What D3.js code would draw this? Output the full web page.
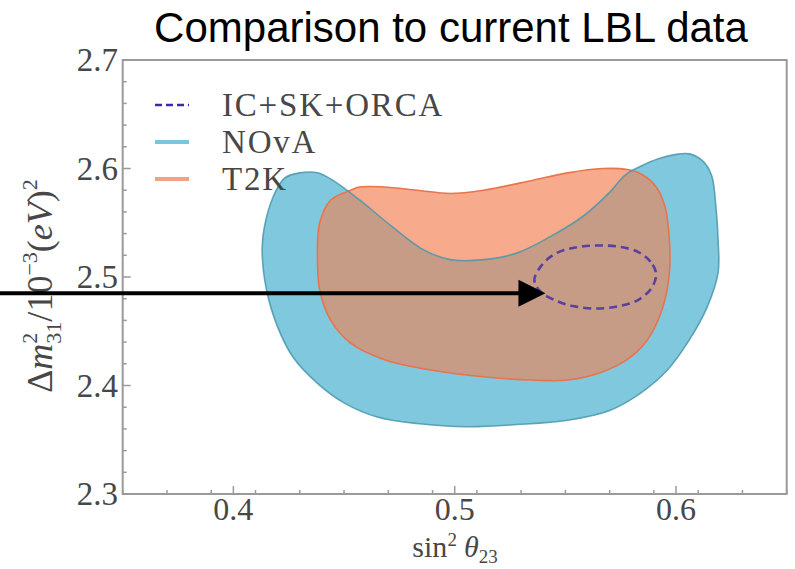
<!DOCTYPE html>
<html>
<head>
<meta charset="utf-8">
<script src="https://cdn.jsdelivr.net/npm/d3@7"></script>
<style>
  html, body { margin: 0; padding: 0; background: #fff; }
  svg { display: block; }
</style>
</head>
<body>
<svg id="chart" width="795" height="569"></svg>
<script>
// ---------------- data ----------------
const title = "Comparison to current LBL data";
const xDomain = [0.35, 0.65];
const yDomain = [2.3, 2.7];
const xTicks = [0.4, 0.5, 0.6];
const yTicks = [2.3, 2.4, 2.5, 2.6, 2.7];
const xMinorStep = 0.02;
const yMinorStep = 0.02;

const legendLabels = ["IC+SK+ORCA", "NOvA", "T2K"];

// NOvA contour (sin^2 theta23, dm^2_31 [1e-3 eV^2])
const novaX = [0.430, 0.423, 0.418, 0.414, 0.413, 0.415, 0.420, 0.427, 0.438, 0.450, 0.465, 0.483, 0.506, 0.528, 0.551,
  0.570, 0.584, 0.596, 0.606, 0.614, 0.619, 0.619, 0.618, 0.616, 0.612, 0.606, 0.600, 0.592, 0.584, 0.577, 0.570,
  0.558, 0.543, 0.528, 0.513, 0.498, 0.486, 0.472, 0.457, 0.445, 0.438];
const novaY = [2.596, 2.591, 2.574, 2.546, 2.525, 2.488, 2.454, 2.426, 2.402, 2.384, 2.371, 2.365, 2.362, 2.364, 2.368,
  2.377, 2.393, 2.414, 2.442, 2.472, 2.504, 2.534, 2.565, 2.594, 2.607, 2.6135, 2.613, 2.609, 2.602, 2.594, 2.578,
  2.556, 2.537, 2.522, 2.516, 2.516, 2.525, 2.546, 2.571, 2.589, 2.596];

// T2K contour
const t2kX = [0.453, 0.444, 0.439, 0.438, 0.439, 0.444, 0.453, 0.468, 0.490, 0.513, 0.535, 0.551, 0.566, 0.578,
  0.587, 0.594, 0.597, 0.597, 0.595, 0.591, 0.585, 0.578, 0.567, 0.551, 0.535, 0.513, 0.498, 0.483, 0.468, 0.457];
const t2kY = [2.580, 2.571, 2.550, 2.518, 2.488, 2.460, 2.439, 2.424, 2.414, 2.408, 2.405, 2.405, 2.412, 2.424,
  2.442, 2.472, 2.504, 2.534, 2.565, 2.583, 2.594, 2.599, 2.600, 2.596, 2.589, 2.580, 2.577, 2.580, 2.583, 2.583];

// IC+SK+ORCA projected contour
const icX = [0.591, 0.5885, 0.583, 0.574, 0.564, 0.554, 0.545, 0.539, 0.536, 0.539, 0.546, 0.554, 0.564, 0.574, 0.583, 0.589];
const icY = [2.503, 2.514, 2.523, 2.528, 2.529, 2.527, 2.521, 2.510, 2.497, 2.486, 2.478, 2.473, 2.471, 2.473, 2.479, 2.490];

// annotation arrow (data coordinates)
const arrowX = [0.29, 0.541];
const arrowY = [2.485, 2.485];

// ---------------- layout / style ----------------
const plot = { left: 122.7, right: 786.7, top: 60, bottom: 494 };
const colors = {
  nova: "#80c8de", novaStroke: "#4a97ad",
  t2k: "#f8ab8c", t2kStroke: "#e8744c",
  overlap: "#c79c87",
  ic: "#3d2ba6",
  frame: "#9a9a9a", text: "#474747"
};
const serif = "'Liberation Serif', 'DejaVu Serif', serif";

const svg = d3.select("#chart");
const x = d3.scaleLinear().domain(xDomain).range([plot.left, plot.right]);
const y = d3.scaleLinear().domain(yDomain).range([plot.bottom, plot.top]);

const toPts = (xs, ys) => xs.map((v, i) => [v, ys[i]]);
const line = d3.line().x(d => x(d[0])).y(d => y(d[1])).curve(d3.curveCatmullRomClosed.alpha(0.5));

const novaPts = toPts(novaX, novaY);
const t2kPts = toPts(t2kX, t2kY);
const icPts = toPts(icX, icY);

const defs = svg.append("defs");
defs.append("clipPath").attr("id", "novaClip")
  .append("path").attr("d", line(novaPts));

svg.append("path").attr("d", line(novaPts)).attr("fill", colors.nova);
svg.append("path").attr("d", line(t2kPts)).attr("fill", colors.t2k);
svg.append("path").attr("d", line(t2kPts)).attr("fill", colors.overlap).attr("clip-path", "url(#novaClip)");
svg.append("path").attr("d", line(t2kPts)).attr("fill", "none")
  .attr("stroke", colors.t2kStroke).attr("stroke-width", 1.6);
svg.append("path").attr("d", line(novaPts)).attr("fill", "none")
  .attr("stroke", colors.novaStroke).attr("stroke-width", 1.6).attr("stroke-opacity", 0.85);

svg.append("path").attr("d", line(icPts)).attr("fill", "none")
  .attr("stroke", colors.ic).attr("stroke-width", 2.6).attr("stroke-opacity", 0.8)
  .attr("stroke-dasharray", "8,5");

// ---------------- frame & ticks ----------------
const gAx = svg.append("g");
gAx.append("rect")
  .attr("x", plot.left).attr("y", plot.top)
  .attr("width", plot.right - plot.left).attr("height", plot.bottom - plot.top)
  .attr("fill", "none").attr("stroke", colors.frame).attr("stroke-width", 2);

const xMinor = d3.range(xDomain[0], xDomain[1] + 1e-9, xMinorStep);
const yMinor = d3.range(yDomain[0], yDomain[1] + 1e-9, yMinorStep);
const isMajor = (v, arr) => arr.some(t => Math.abs(t - v) < 1e-6);

gAx.selectAll(".xminor").data(xMinor.filter(v => !isMajor(v, xTicks))).join("line")
  .attr("x1", d => x(d)).attr("x2", d => x(d))
  .attr("y1", plot.bottom).attr("y2", plot.bottom - 4)
  .attr("stroke", colors.frame).attr("stroke-width", 1.5);
gAx.selectAll(".xmajor").data(xTicks).join("line")
  .attr("x1", d => x(d)).attr("x2", d => x(d))
  .attr("y1", plot.bottom).attr("y2", plot.bottom - 8)
  .attr("stroke", colors.frame).attr("stroke-width", 1.5);
gAx.selectAll(".yminor").data(yMinor.filter(v => !isMajor(v, yTicks))).join("line")
  .attr("x1", plot.left).attr("x2", plot.left + 4)
  .attr("y1", d => y(d)).attr("y2", d => y(d))
  .attr("stroke", colors.frame).attr("stroke-width", 1.5);
gAx.selectAll(".ymajor").data(yTicks).join("line")
  .attr("x1", plot.left).attr("x2", plot.left + 8)
  .attr("y1", d => y(d)).attr("y2", d => y(d))
  .attr("stroke", colors.frame).attr("stroke-width", 1.5);

gAx.selectAll(".xlab").data(xTicks).join("text")
  .attr("x", d => x(d)).attr("y", 520)
  .attr("text-anchor", "middle")
  .attr("font-family", serif).attr("font-size", 32).attr("fill", colors.text)
  .text(d => d.toFixed(1));
gAx.selectAll(".ylab").data(yTicks).join("text")
  .attr("x", 118).attr("y", d => y(d) + 11)
  .attr("text-anchor", "end")
  .attr("font-family", serif).attr("font-size", 33).attr("fill", colors.text)
  .text(d => d.toFixed(1));

// x axis label
const xl = svg.append("text")
  .attr("x", 455).attr("y", 557).attr("text-anchor", "middle")
  .attr("font-family", serif).attr("font-size", 30).attr("fill", colors.text);
xl.append("tspan").text("sin");
xl.append("tspan").attr("font-size", 19).attr("dy", -11).text("2");
xl.append("tspan").attr("dy", 11).attr("dx", 7).attr("font-style", "italic").text("θ");
xl.append("tspan").attr("font-size", 19).attr("dy", 6).text("23");

// y axis label
const yl = svg.append("text")
  .attr("transform", "translate(52,286) rotate(-90)")
  .attr("text-anchor", "middle")
  .attr("font-family", serif).attr("font-size", 36).attr("fill", colors.text);
yl.append("tspan").text("Δ");
yl.append("tspan").attr("font-style", "italic").text("m");
yl.append("tspan").attr("font-size", 22).attr("dy", -15).text("2");
yl.append("tspan").attr("font-size", 22).attr("dx", -11).attr("dy", 24).text("31");
yl.append("tspan").attr("dy", -9).text("/10");
yl.append("tspan").attr("font-size", 22).attr("dy", -15).text("−3");
yl.append("tspan").attr("dy", 15).text("(");
yl.append("tspan").attr("font-style", "italic").text("eV");
yl.append("tspan").text(")");
yl.append("tspan").attr("font-size", 22).attr("dy", -15).text("2");

// ---------------- legend ----------------
const legendColors = [colors.ic, "#7cc6dc", "#f2a283"];
const legendDash = ["7,4", null, null];
const lg = svg.append("g");
legendLabels.forEach((lab, i) => {
  const cy = 105 + i * 37;
  lg.append("line")
    .attr("x1", 155).attr("x2", 189).attr("y1", cy).attr("y2", cy)
    .attr("stroke", legendColors[i]).attr("stroke-width", i === 0 ? 2.5 : 4)
    .attr("stroke-dasharray", legendDash[i]);
  lg.append("text")
    .attr("x", 222).attr("y", cy + 11)
    .attr("font-family", serif).attr("font-size", 33).attr("fill", colors.text)
    .attr("letter-spacing", 1.8)
    .text(lab);
});

// ---------------- title ----------------
svg.append("text")
  .attr("x", 451).attr("y", 42).attr("text-anchor", "middle")
  .attr("font-family", "'Liberation Sans', Arial, sans-serif").attr("font-size", 42)
  .attr("fill", "#000")
  .text(title);

// ---------------- arrow ----------------
const ax0 = x(arrowX[0]), ax1 = x(arrowX[1]), ay = y(arrowY[0]);
const headLen = 27, headHalf = 13.5;
svg.append("line")
  .attr("x1", ax0).attr("x2", ax1 - headLen + 2).attr("y1", ay).attr("y2", ay)
  .attr("stroke", "#000").attr("stroke-width", 4);
svg.append("path")
  .attr("d", `M${ax1},${ay} L${ax1 - headLen},${ay - headHalf} L${ax1 - headLen},${ay + headHalf} Z`)
  .attr("fill", "#000");
</script>
</body>
</html>
